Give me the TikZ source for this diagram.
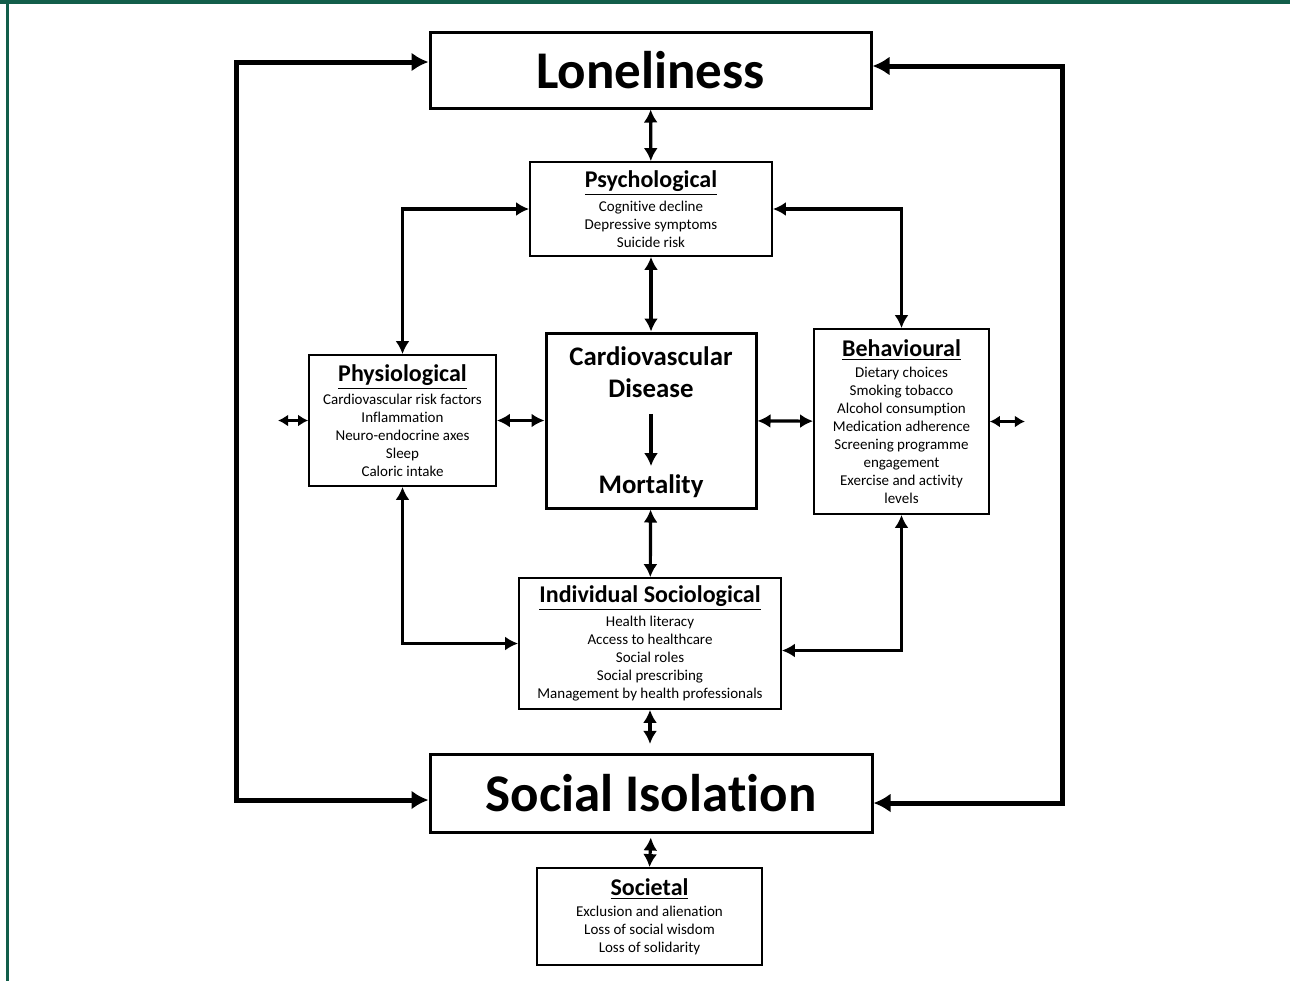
\documentclass[tikz,border=0pt]{standalone}
\usepackage{fontspec}
\setmainfont[RawFeature={-liga}]{Carlito}
\usetikzlibrary{arrows.meta,positioning}
\definecolor{framegreen}{RGB}{18,94,74}
\newcommand{\boxhead}[1]{{\fontsize{12}{13}\selectfont\bfseries\underline{#1}}}

\begin{document}
\begin{tikzpicture}[x=0.5pt,y=-0.5pt]
      \tikzstyle{bigbox}=[rectangle, draw=black, line width=1.5pt, font=\fontsize{26.5}{30}\selectfont\bfseries, minimum width=220.5pt, minimum height=38pt, inner sep=0pt]
      \tikzstyle{factor}=[rectangle, draw=black, line width=0.9pt, align=center, font=\fontsize{7.5}{9}\selectfont, inner sep=0pt]
      \tikzstyle{connect}=[{Latex[length=6.5pt,width=7pt]}-{Latex[length=6.5pt,width=7pt]}, line width=1.6pt]
      \tikzstyle{loop}=[{Latex[length=8.5pt,width=9.5pt]}-{Latex[length=8.5pt,width=9.5pt]}, line width=2.5pt]
      \tikzstyle{stub}=[{Latex[length=5pt,width=6pt]}-{Latex[length=5pt,width=6pt]}, line width=1.6pt]
      \tikzstyle{cvdtext}=[font=\fontsize{13.4}{16}\selectfont\bfseries, align=center, inner sep=0pt]

      % frame
      \fill[white] (0,0) rectangle (1290,981);
      \fill[framegreen] (0,0) rectangle (1290,3.5);
      \fill[framegreen] (6,0) rectangle (8.5,981);

      \node[bigbox] (lonely) at (650.5,70) {Loneliness};
      \node[bigbox, minimum width=221pt, minimum height=39pt] (social) at (651,793) {Social Isolation};

      \node[factor, minimum width=121pt, minimum height=47pt] (psych) at (651,209)
        {\boxhead{Psychological}\\[1.5pt] Cognitive decline\\ Depressive symptoms\\ Suicide risk};
      \node[factor, minimum width=93.5pt, minimum height=65.5pt] (physio) at (402.5,420.5)
        {\boxhead{Physiological}\\[1.5pt] Cardiovascular risk factors\\ Inflammation\\ Neuro-endocrine axes\\ Sleep\\ Caloric intake};
      \node[factor, minimum width=87.5pt, minimum height=92.5pt] (behav) at (901.5,421.5)
        {\boxhead{Behavioural}\\[1.5pt] Dietary choices\\ Smoking tobacco\\ Alcohol consumption\\ Medication adherence\\ Screening programme\\ engagement\\ Exercise and activity\\ levels};
      \node[factor, minimum width=131pt, minimum height=65.5pt] (indsoc) at (650,643.5)
        {\boxhead{Individual Sociological}\\[1.5pt] Health literacy\\ Access to healthcare\\ Social roles\\ Social prescribing\\ Management by health professionals};
      \node[factor, minimum width=112.5pt, minimum height=48.5pt] (societal) at (649.5,916.5)
        {\boxhead{Societal}\\[1.5pt] Exclusion and alienation\\ Loss of social wisdom\\ Loss of solidarity};

      % cardiovascular disease box
      \node[rectangle, draw=black, line width=1.5pt, minimum width=105pt, minimum height=87.5pt] (cvd) at (651,420.5) {};
      \node[cvdtext] (disease) at (651,372) {Cardiovascular\\Disease};
      \node[cvdtext] (mort) at (651,486) {Mortality};
      \draw[-{Latex[length=6.5pt,width=7pt]}, line width=1.6pt, shorten <=8pt, shorten >=4pt] (disease) -- (mort);

      % vertical spine
      \path (lonely) edge [connect] (psych);
      \path (psych) edge [connect] (cvd);
      \path (cvd) edge [connect] (indsoc);
      \draw[connect] (indsoc.south) -- ++(0,34);
      \draw[connect, shorten <=2pt] (social.south) -- (societal.north);

      % horizontal row
      \path (physio) edge [connect] (cvd);
      \path (cvd) edge [connect] (behav);
      \draw[stub] (physio.west) -- ++(-30,0);
      \draw[stub] (behav.east) -- ++(35,0);

      % elbows
      \draw[connect] (psych.west) -| (physio.north);
      \draw[connect] (psych.east) -| (behav.north);
      \draw[connect] (physio.south) |- (indsoc.west);
      \draw[connect] (behav.south) |- ([yshift=-3.5pt]indsoc.east);

      % outer loops
      \draw[loop] ([yshift=4pt]lonely.west) -- ++(-192,0) |- ([yshift=-3.5pt]social.west);
      \draw[loop] ([yshift=2pt]lonely.east) -- ++(190,0) |- ([yshift=-5pt]social.east);
    \end{tikzpicture}
\end{document}
